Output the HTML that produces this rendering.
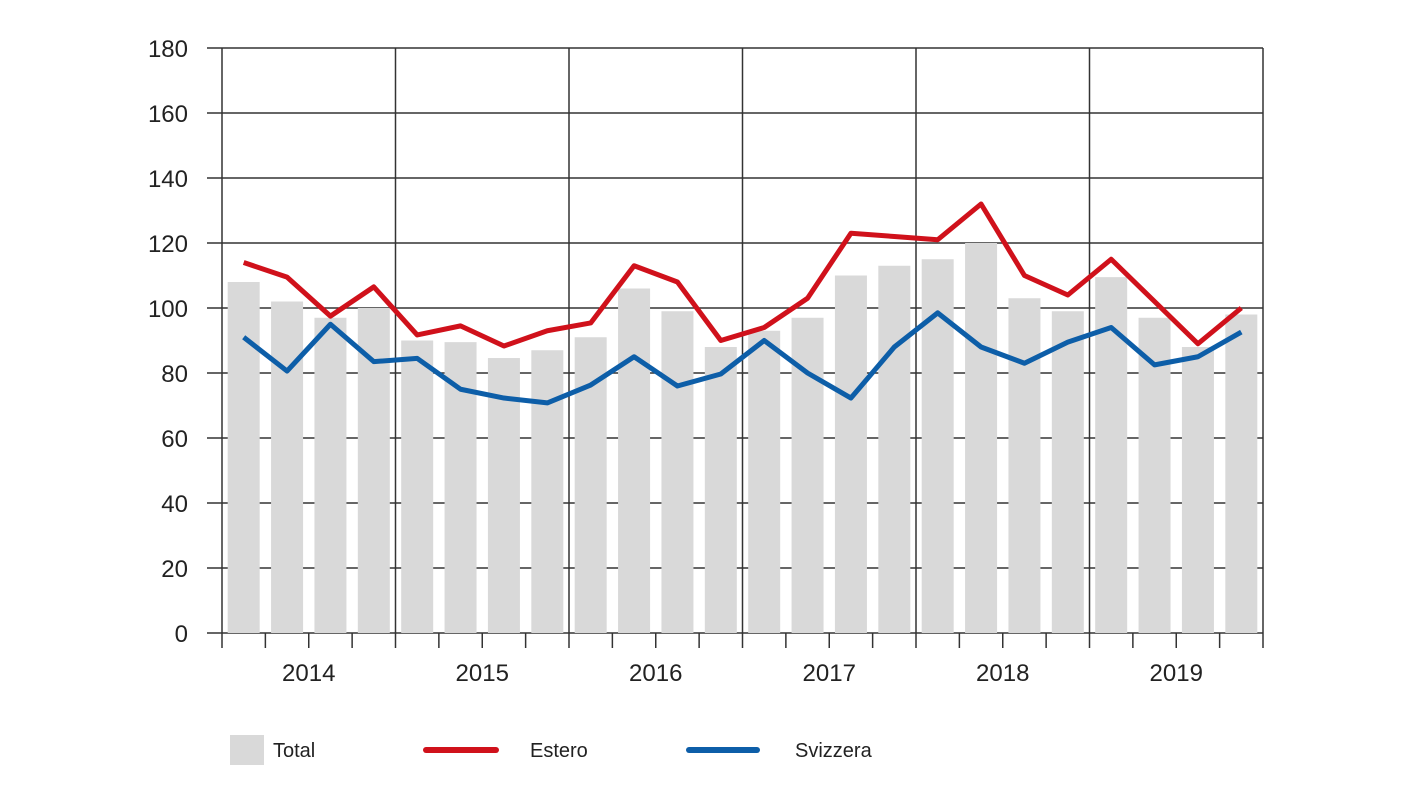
<!DOCTYPE html>
<html><head><meta charset="utf-8">
<style>
html,body{margin:0;padding:0;background:#fff;width:1408px;height:792px;overflow:hidden}
svg text{font-family:"Liberation Sans","DejaVu Sans",sans-serif;fill:#222}
</style></head>
<body>
<svg id="chart" width="1408" height="792" xmlns="http://www.w3.org/2000/svg">
<g id="grid"></g>
<g id="bars"></g>
<g id="lines"></g>
<g id="axes"></g>
<g id="legend">
  <g>
    <rect x="230" y="735" width="34" height="30" fill="#d9d9d9"/>
    <text x="273" y="757" font-size="20">Total</text>
  </g>
  <g>
    <line x1="426" y1="750" x2="496" y2="750" stroke="#d0111b" stroke-width="6" stroke-linecap="round"/>
    <text x="530" y="757" font-size="20">Estero</text>
  </g>
  <g>
    <line x1="689" y1="750" x2="757" y2="750" stroke="#0d5ea8" stroke-width="6" stroke-linecap="round"/>
    <text x="795" y="757" font-size="20">Svizzera</text>
  </g>
</g>
</svg>
<script>
const years = ["2014","2015","2016","2017","2018","2019"];
const yTicks = [0,20,40,60,80,100,120,140,160,180];
const total = [108,102,97,100,90,89.5,84.6,87,91,106,99,88,93,97,110,113,115,120,103,99,109.5,97,88,98];
const estero = [114,109.5,97.5,106.5,91.7,94.5,88.3,93,95.4,113,108,90,94,103,123,122,121,132,110,104,115,102,89,100];
const svizzera = [91,80.6,95,83.5,84.5,75,72.3,70.8,76.3,85,76,79.7,90,80,72.3,88,98.5,88,83,89.5,94,82.5,85,92.6];

const NS="http://www.w3.org/2000/svg";
const X0=222, X1=1263, Y0=633, YTOP=48, YMAX=180;
const nQ = years.length*4;
const qW=(X1-X0)/nQ;
const yS=v=>Y0-(v/YMAX)*(Y0-YTOP);
const xC=i=>X0+qW*(i+0.5);
function mk(tag,attrs,parent){const e=document.createElementNS(NS,tag);for(const k in attrs)e.setAttribute(k,attrs[k]);parent.appendChild(e);return e;}
const grid=document.getElementById('grid'), axes=document.getElementById('axes'), bars=document.getElementById('bars'), lines=document.getElementById('lines');

yTicks.forEach(t=>{
  const y=yS(t);
  const l=mk('line',{x1:207,y1:y,x2:X1,y2:y,stroke:'#333','stroke-width':1.5},grid);
  
  
  const tx=mk('text',{x:188,y:y+9,'font-size':24,'text-anchor':'end'},axes);
  tx.textContent=t;
  
  
});
for(let k=0;k<=years.length;k++){
  const x=X0+qW*4*k;
  const l=mk('line',{x1:x,y1:YTOP,x2:x,y2:Y0+15,stroke:'#333','stroke-width':1.5},grid);
  
  
}
for(let q=1;q<nQ;q++){
  if(q%4===0)continue;
  const x=X0+qW*q;
  const l=mk('line',{x1:x,y1:Y0,x2:x,y2:Y0+15,stroke:'#333','stroke-width':1.5},axes);
  
  
}
years.forEach((yr,k)=>{
  const t=mk('text',{x:X0+qW*(4*k+2),y:Y0+48,'font-size':24,'text-anchor':'middle'},axes);
  t.textContent=yr;
  
  
});
total.forEach((v,i)=>{
  const r=mk('rect',{x:xC(i)-16,y:yS(v),width:32,height:Y0-yS(v),fill:'#d9d9d9'},bars);
  
  
});
function line(arr,color,name){
  const p=mk('polyline',{points:arr.map((v,i)=>xC(i)+','+yS(v)).join(' '),fill:'none',stroke:color,'stroke-width':5,'stroke-linejoin':'round'},lines);
  
  
}
line(estero,'#d0111b','line-estero');
line(svizzera,'#0d5ea8','line-svizzera');
</script>
</body></html>
